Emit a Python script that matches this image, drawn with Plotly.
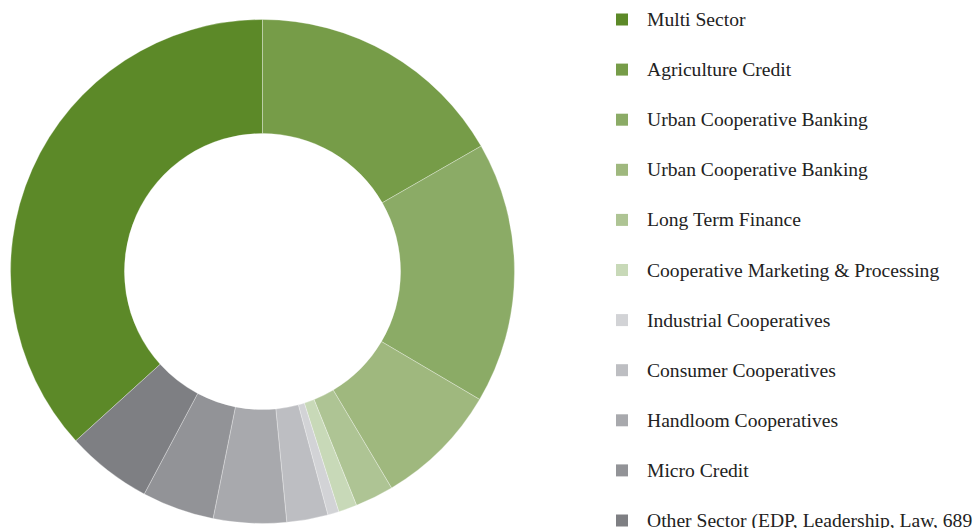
import plotly.graph_objects as go

# ---- data ----
categories = [
    "Multi Sector",
    "Agriculture Credit",
    "Urban Cooperative Banking",
    "Urban Cooperative Banking ",
    "Long Term Finance",
    "Cooperative Marketing & Processing",
    "Industrial Cooperatives",
    "Consumer Cooperatives",
    "Handloom Cooperatives",
    "Micro Credit",
    "Other Sector (EDP, Leadership, Law, 689 ...)",
]
values = [36.72, 16.71, 16.76, 7.97, 2.47, 1.19, 0.72, 2.64, 4.68, 4.63, 5.50]
colors = [
    "#5c8928", "#769c48", "#8bab66", "#9fb87e", "#aec494", "#c8d9b8",
    "#d2d3d6", "#bdbec2", "#a8a9ad", "#929397", "#7e7f83",
]

W, H = 977, 528
cx, cy, R = 262.5, 271.5, 252.0

# first slice (Multi Sector) ends at 12 o'clock
rotation = -360.0 * values[0] / sum(values)

fig = go.Figure(go.Pie(
    labels=categories,
    values=values,
    sort=False,
    direction="clockwise",
    rotation=rotation,
    hole=0.548,
    textinfo="none",
    hoverinfo="label+percent",
    marker=dict(colors=colors, line=dict(color="rgba(255,255,255,0.3)", width=1)),
    domain=dict(x=[(cx - R) / W, (cx + R) / W],
                y=[(H - cy - R) / H, (H - cy + R) / H]),
    showlegend=False,
))

# ---- manual legend ----
y0, step = 19.5, 50.1
shapes, annotations = [], []
for i, (name, col) in enumerate(zip(categories, colors)):
    yc = y0 + step * i
    shapes.append(dict(type="rect", xref="paper", yref="paper",
                       x0=616 / W, x1=628 / W,
                       y0=1 - (yc + 6) / H, y1=1 - (yc - 6) / H,
                       fillcolor=col, line=dict(width=0)))
    annotations.append(dict(xref="paper", yref="paper",
                            x=645 / W, y=1 - yc / H,
                            xanchor="left", yanchor="middle",
                            text=name.strip(), showarrow=False,
                            font=dict(family="Liberation Serif", size=19.6, color="#222222")))

fig.update_layout(
    width=W, height=H,
    margin=dict(l=0, r=0, t=0, b=0),
    paper_bgcolor="white",
    plot_bgcolor="white",
    shapes=shapes,
    annotations=annotations,
    font=dict(family="Liberation Serif"),
)

fig.write_html(
    "out.html",
    config={"displayModeBar": False},
    post_script="document.body.style.margin='0';document.body.style.overflow='hidden';",
)
